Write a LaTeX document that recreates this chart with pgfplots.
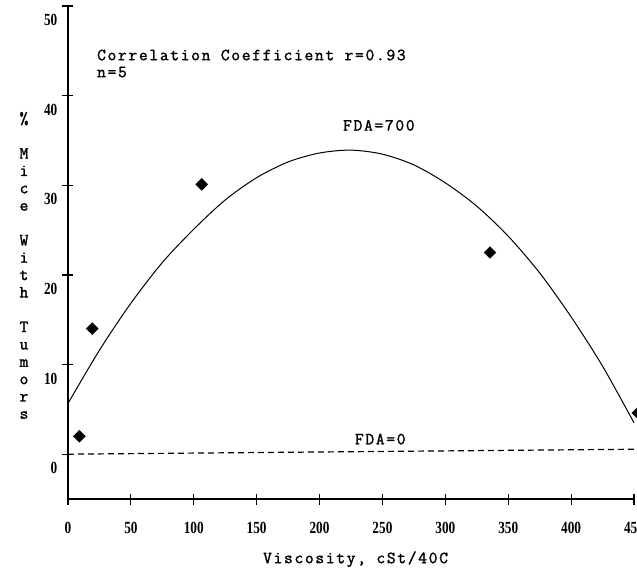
\documentclass[border=0pt]{standalone}
\usepackage{fontspec}
\setmainfont{Liberation Mono}
\newfontfamily\tickfont{Liberation Serif}[FakeStretch=0.78]
\newfontfamily\twfont{Latin Modern Mono}[FakeBold=1.6, LetterSpace=10]
\usepackage{pgfplots}
\pgfplotsset{compat=1.18}
\newcommand\tw{\twfont\fontsize{17}{17}\selectfont}
\begin{document}
\begin{tikzpicture}
\path[use as bounding box] (-68pt,-72pt) rectangle (569pt,499pt);
\clip (-68pt,-72pt) rectangle (569pt,499pt);
\begin{axis}[
  at={(0pt,0pt)}, anchor=south west,
  width=566pt, height=493pt, scale only axis,
  xmin=0, xmax=450, ymin=-5, ymax=50,
  axis x line=bottom, axis y line=left,
  axis line style={-, line width=1.4pt},
  xtick={0,50,...,450}, ytick={0,10,...,50},
  tick align=center, major tick length=11pt,
  tick style={line width=1.2pt, black},
  clip=false,
  /pgf/number format/assume math mode=true,
  ticklabel style={font=\tickfont\bfseries\fontsize{17}{17}\selectfont},
  xticklabel style={anchor=center, yshift=-23pt},
  yticklabel style={anchor=east, inner sep=0pt, xshift=-5pt, yshift=-14pt},
]
\addplot[black, line width=1pt, smooth] coordinates {
 (0,5.66) (25,11.6) (50,16.84) (75,21.38) (100,25.1) (125,28.36) (150,30.85)
 (175,32.6) (200,33.6) (225,33.92) (250,33.47) (275,32.27) (300,30.27)
 (325,27.67) (350,24.32) (375,20.22) (400,15.32) (425,9.82) (450,3.5)
};
\addplot[black, line width=1.2pt, dash pattern=on 6pt off 4pt] coordinates {
 (0,0) (450,0.55)
};
\addplot[only marks, mark=square*, mark size=4.2pt, mark options={rotate=45, fill=black}] coordinates {
 (9,2.0) (19.3,14.0) (106.3,30.1) (335.5,22.5) (453,4.6)
};
\begin{scope}[every node/.style={inner sep=0pt, font=\tw}]
\node[anchor=base west] at (axis cs:23,43.95) {Correlation Coefficient r=0.93};
\node[anchor=base west] at (axis cs:23,42.06) {n=5};
\node[anchor=base west] at (axis cs:218.6,36.1) {FDA=700};
\node[anchor=base west] at (axis cs:228,1.1) {FDA=0};
\node[anchor=base west] at (axis cs:155,-12.16) {Viscosity, cSt/40C};
\end{scope}
\end{axis}
\node[align=center, inner sep=0pt, font=\tw, text width=20pt, execute at begin node={\setlength{\baselineskip}{17.35pt}}] at (-44pt,233.5pt)
 {\%\\[17.35pt]M\\i\\c\\e\\[17.35pt]W\\i\\t\\h\\[17.35pt]T\\u\\m\\o\\r\\s};
\end{tikzpicture}
\end{document}
